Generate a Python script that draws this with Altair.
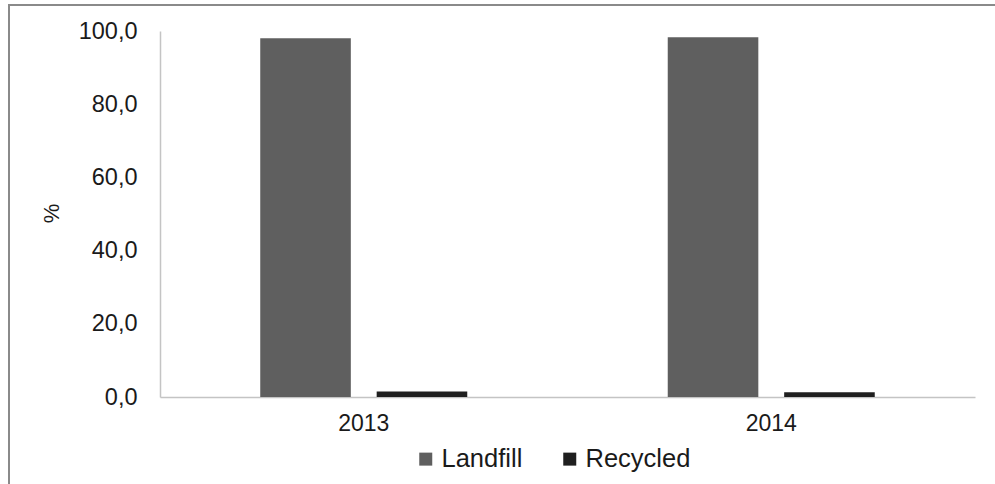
import altair as alt
import pandas as pd

years = ["2013", "2014"]
landfill = [98.0, 98.3]
recycled = [1.5, 1.3]
series = ["Landfill", "Recycled"]
y_ticks = [0, 20, 40, 60, 80, 100]

rows = []
for i, y in enumerate(years):
    rows.append({"year": y, "type": "Landfill", "value": landfill[i]})
    rows.append({"year": y, "type": "Recycled", "value": recycled[i]})
df = pd.DataFrame(rows)

FONT = "Liberation Sans"

bars = alt.Chart(df).mark_bar().encode(
    x=alt.X("year:N", sort=years, title=None,
            scale=alt.Scale(paddingInner=0.492, paddingOuter=0.246),
            axis=alt.Axis(labelAngle=0, ticks=False, domainColor="#c4c4c4",
                          domainWidth=1.5, labelFontSize=23, labelPadding=15,
                          labelColor="#1a1a1a", labelFont=FONT)),
    xOffset=alt.XOffset("type:N", sort=series,
                        scale=alt.Scale(paddingInner=0.222, paddingOuter=0)),
    y=alt.Y("value:Q", title="%",
            scale=alt.Scale(domain=[0, 100], nice=False),
            axis=alt.Axis(values=y_ticks, grid=False, ticks=False,
                          domainColor="#c4c4c4", domainWidth=1.5,
                          labelFontSize=23.5, labelPadding=23,
                          labelColor="#1a1a1a", labelFont=FONT,
                          labelExpr="replace(format(datum.value, '.1f'), '.', ',')",
                          titleFont=FONT, titleFontSize=22, titleFontWeight="normal",
                          titleColor="#1a1a1a", titleX=-109, titleY=182,
                          titleAngle=-90, titleAlign="center", titleBaseline="middle")),
    color=alt.Color("type:N", sort=series,
                    scale=alt.Scale(domain=series, range=["#5f5f5f", "#1f1f1f"]),
                    legend=alt.Legend(title=None, orient="none", direction="horizontal",
                                      legendX=253, legendY=415, padding=0,
                                      symbolType="square", symbolSize=169,
                                      symbolStrokeWidth=0, labelFontSize=25.5,
                                      labelFont=FONT, labelColor="#1a1a1a",
                                      labelOffset=3, columnPadding=34)),
)

border_left = alt.Chart(alt.Data(values=[{}])).mark_rule(color="#8a8a8a", strokeWidth=2).encode(
    x=alt.value(-151), y=alt.value(-26), y2=alt.value(460)
)
border_top = alt.Chart(alt.Data(values=[{}])).mark_rule(color="#8a8a8a", strokeWidth=2).encode(
    x=alt.value(-152), x2=alt.value(840), y=alt.value(-26)
)

chart = alt.layer(bars, border_left, border_top).properties(
    width=815, height=366,
    autosize=alt.AutoSizeParams(type="none"),
    padding={"left": 160, "top": 31, "right": 20, "bottom": 87},
).configure(background="white").configure_view(stroke=None)

chart.save("out.html", embed_options={"renderer": "svg", "actions": False})
